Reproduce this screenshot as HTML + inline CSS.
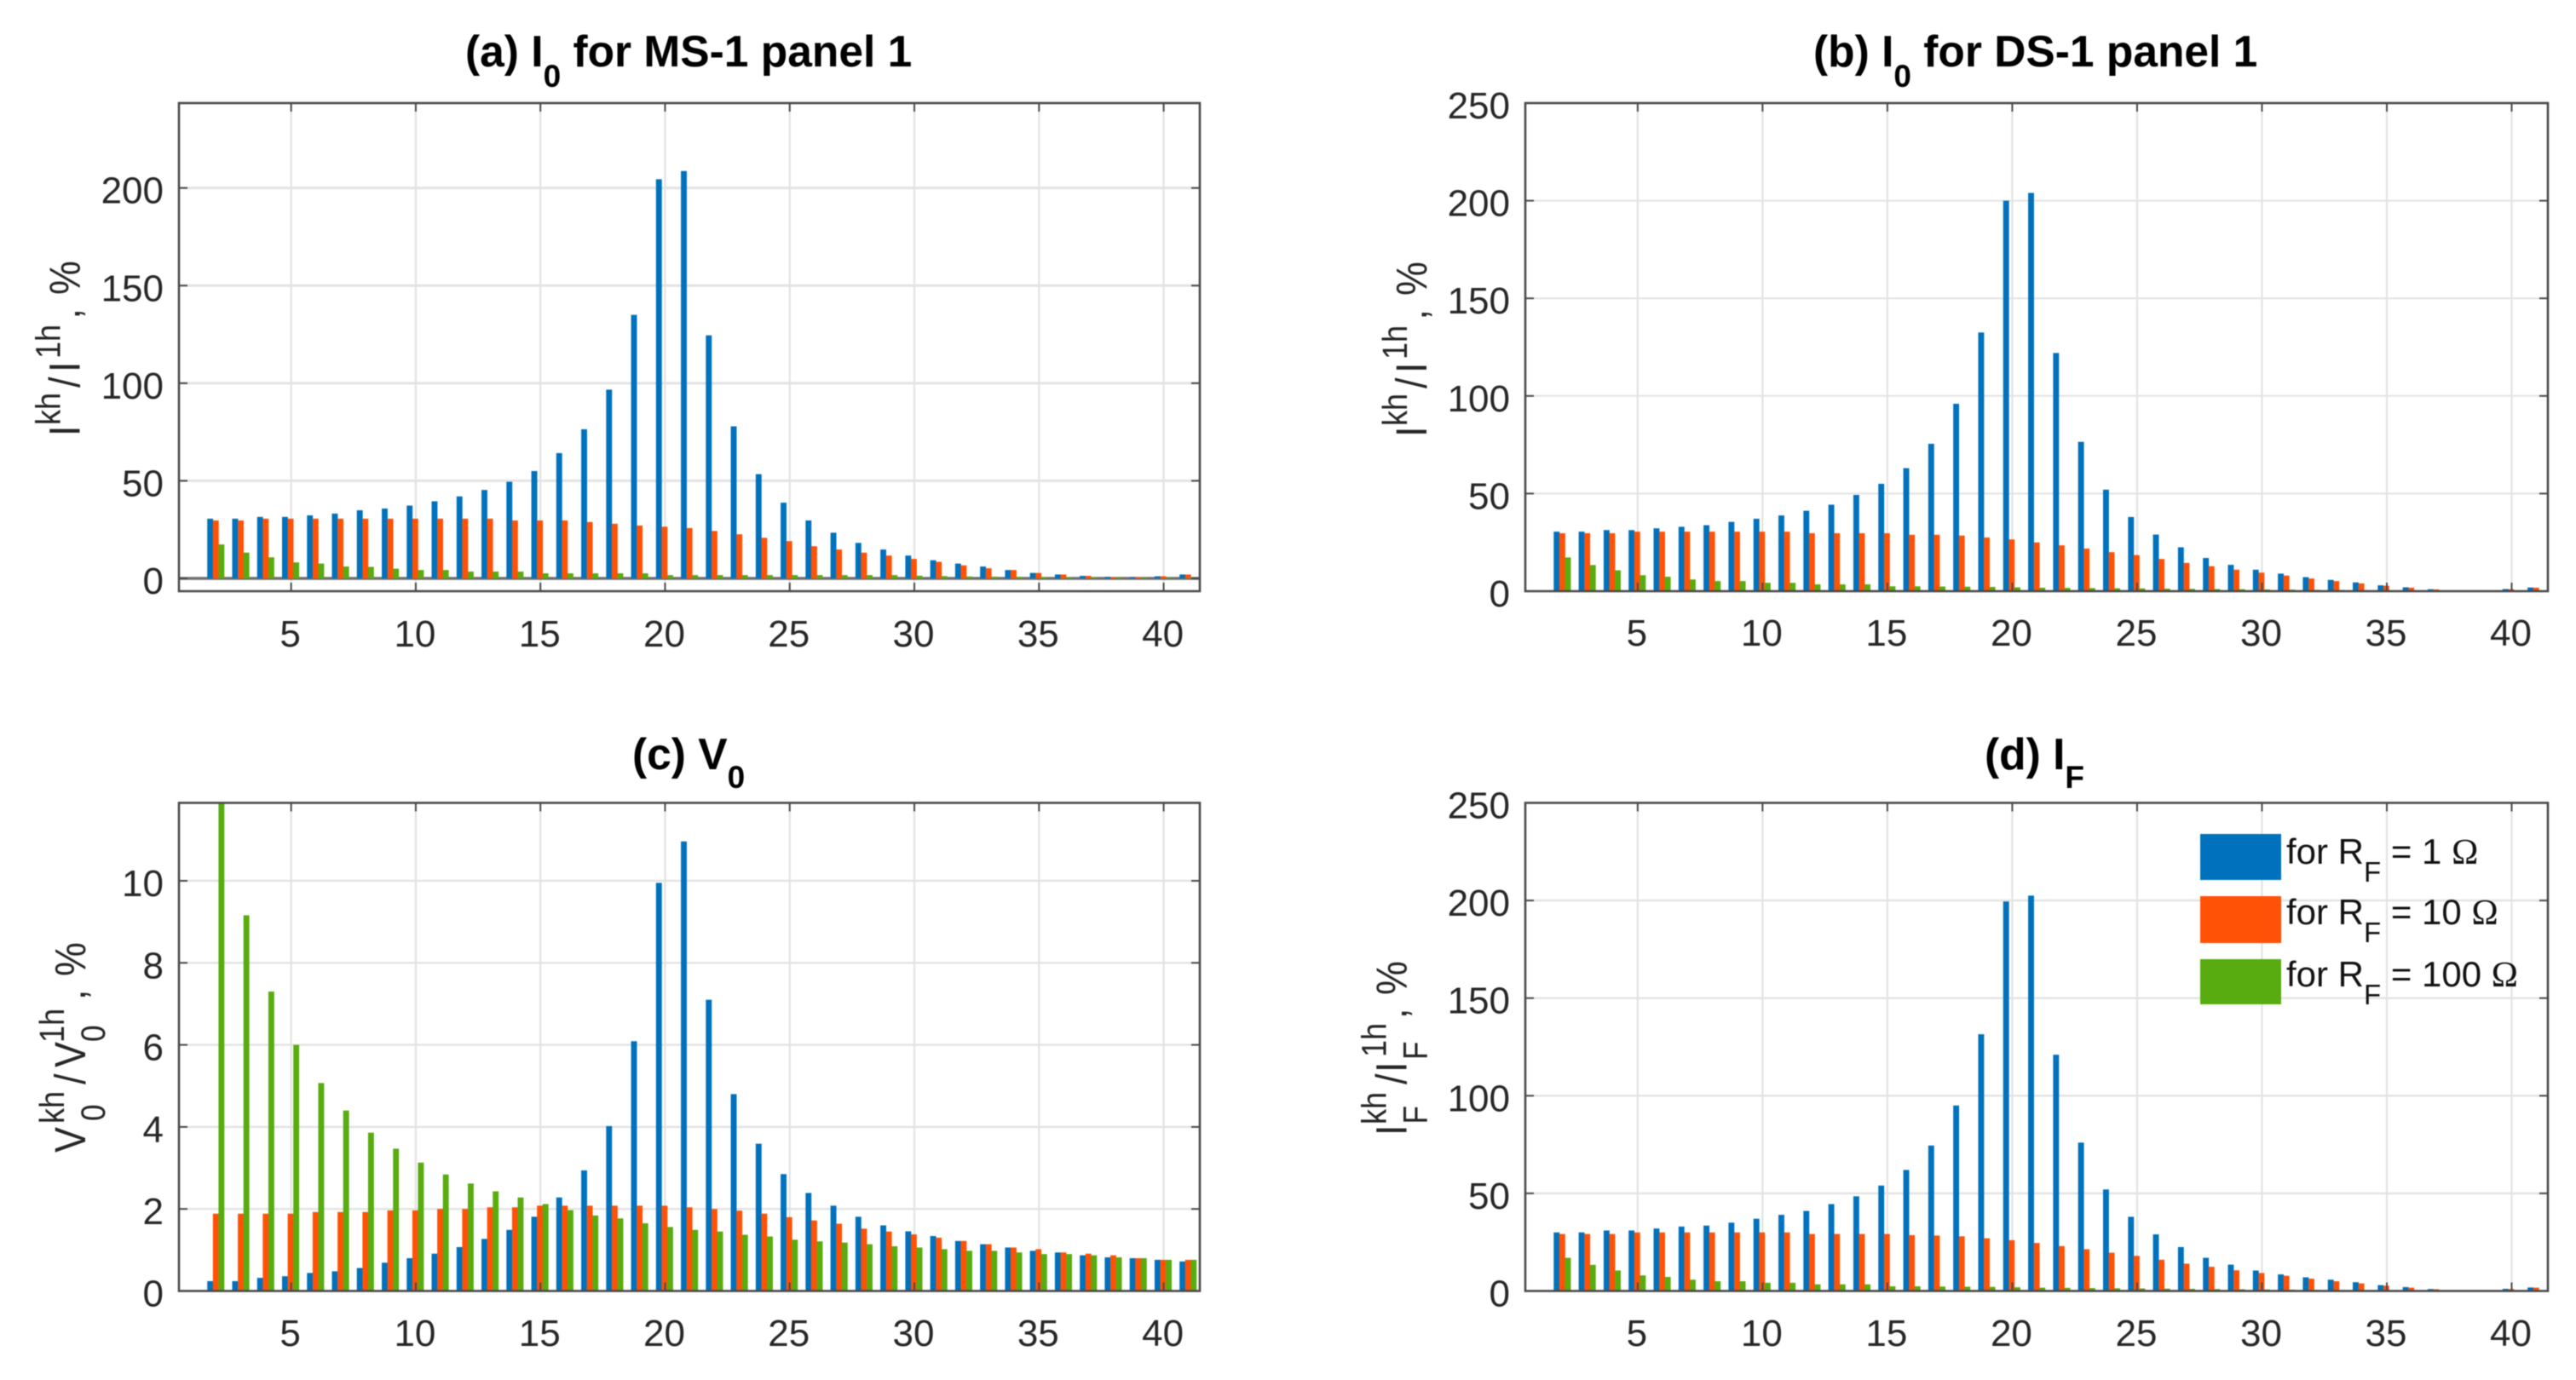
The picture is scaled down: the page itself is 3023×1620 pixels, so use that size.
<!DOCTYPE html>
<html lang="en">
<head>
<meta charset="utf-8">
<title>Harmonic spectra charts</title>
<style>
html,body{margin:0;padding:0;background:#fff;}
#figure{display:block;width:3023px;height:1620px;filter:blur(0.6px);font-family:"Liberation Sans",Arial,sans-serif;}
.title{font-size:51.5px;font-weight:700;fill:#000;}
.ylabel{font-size:51px;fill:#262626;}
.ylabel .sup{font-size:41px;}
.ylabel .sub{font-size:40px;}
.tick-label{font-size:44px;fill:#262626;}
.legend-text{font-size:42px;fill:#111;}
</style>
</head>
<body>
<svg id="figure" xmlns="http://www.w3.org/2000/svg" width="3023" height="1620" viewBox="0 0 3023 1620">
  <rect x="0" y="0" width="3023" height="1620" fill="#ffffff"/>
  <defs id="clip-defs"></defs>
  <g id="panel-a"></g>
  <g id="panel-b"></g>
  <g id="panel-c"></g>
  <g id="panel-d"></g>

  <text class="title" x="546" y="78">(a) I<tspan font-size="37" dy="24">0</tspan><tspan dy="-24"> for MS-1 panel 1</tspan></text>
  <text class="title" x="2128" y="78">(b) I<tspan font-size="37" dy="24">0</tspan><tspan dy="-24"> for DS-1 panel 1</tspan></text>
  <text class="title" x="742" y="903">(c) V<tspan font-size="37" dy="22">0</tspan></text>
  <text class="title" x="2329" y="903">(d) I<tspan font-size="37" dy="22">F</tspan></text>

  <text class="ylabel" transform="translate(93.3,512) rotate(-90) scale(0.88,1)"><tspan x="0" y="0">I</tspan><tspan class="sup" x="14.8" y="-23">kh</tspan><tspan x="64.8" y="0">/</tspan><tspan x="85.2" y="0">I</tspan><tspan class="sup" x="103.4" y="-23">1h</tspan><tspan x="156.3" y="0">,</tspan><tspan x="188.6" y="0">%</tspan></text>
  <text class="ylabel" transform="translate(1674,513) rotate(-90) scale(0.88,1)"><tspan x="0" y="0">I</tspan><tspan class="sup" x="14.8" y="-23">kh</tspan><tspan x="64.8" y="0">/</tspan><tspan x="85.2" y="0">I</tspan><tspan class="sup" x="103.4" y="-23">1h</tspan><tspan x="156.3" y="0">,</tspan><tspan x="188.6" y="0">%</tspan></text>
  <text class="ylabel" transform="translate(100,1353) rotate(-90) scale(0.88,1)"><tspan x="0" y="0">V</tspan><tspan class="sub" x="42" y="23">0</tspan><tspan class="sup" x="38.6" y="-25">kh</tspan><tspan x="90.9" y="0">/</tspan><tspan x="113.6" y="0">V</tspan><tspan class="sub" x="147.7" y="23">0</tspan><tspan class="sup" x="146.6" y="-25">1h</tspan><tspan x="203.4" y="0">,</tspan><tspan x="235.2" y="0">%</tspan></text>
  <text class="ylabel" transform="translate(1650.7,1333) rotate(-90) scale(0.88,1)"><tspan x="0" y="0">I</tspan><tspan class="sub" x="15.3" y="24">F</tspan><tspan class="sup" x="14.8" y="-24">kh</tspan><tspan x="68.2" y="0">/</tspan><tspan x="84.1" y="0">I</tspan><tspan class="sub" x="101.1" y="24">F</tspan><tspan class="sup" x="104.5" y="-24">1h</tspan><tspan x="155.7" y="0">,</tspan><tspan x="187.5" y="0">%</tspan></text>

  <g>
    <rect x="2582" y="979" width="95" height="54" fill="#0072BD"/>
    <text class="legend-text" x="2683" y="1014">for R<tspan font-size="33" dy="21">F</tspan><tspan dy="-21"> = 1 </tspan><tspan font-family="'Liberation Serif',serif">Ω</tspan></text>
    <rect x="2582" y="1052" width="95" height="55" fill="#FF5206"/>
    <text class="legend-text" x="2683" y="1085">for R<tspan font-size="33" dy="21">F</tspan><tspan dy="-21"> = 10 </tspan><tspan font-family="'Liberation Serif',serif">Ω</tspan></text>
    <rect x="2582" y="1126" width="95" height="53" fill="#58AC10"/>
    <text class="legend-text" x="2683" y="1158">for R<tspan font-size="33" dy="21">F</tspan><tspan dy="-21"> = 100 </tspan><tspan font-family="'Liberation Serif',serif">Ω</tspan></text>
  </g>
</svg>

<script>
const harmonicOrders = [2,3,4,5,6,7,8,9,10,11,12,13,14,15,16,17,18,19,20,21,22,23,24,25,26,27,28,29,30,31,32,33,34,35,36,37,38,39,40,41];
const xTickValues = [5,10,15,20,25,30,35,40];
const currentTickValues = [0,50,100,150,200];
const currentTickValuesFull = [0,50,100,150,200,250];
const voltageTickValues = [0,2,4,6,8,10];

const panelABlue = [30.6,30.6,31.5,31.5,32.3,33.2,34.9,35.8,37.3,39.5,42,45.3,49.5,55,64.2,76.4,96.7,135,204.5,208.7,124.5,77.9,53.4,38.8,29.7,23.4,18.2,14.8,11.7,9.3,7.6,6.1,4.3,2.8,2,1.3,0.8,0.7,1.1,2];
const panelAOrange = [29.7,29.7,30.6,30.6,30.6,30.6,30.6,30.6,30.6,30.6,30.6,30.6,29.7,29.7,29.7,28.9,28,27.1,26.5,25.8,24.3,22.6,20.8,19.1,16.5,14.8,13.2,11.7,10,8.5,6.7,5.2,4.3,2.8,2,1.3,0.7,0.7,1.1,2];
const panelAGreen = [17.4,13.2,10.8,8.2,7.6,6.1,5.9,5,4.3,4.3,3.5,3.5,3.5,2.6,2.6,2.6,2.6,2.6,1.7,1.7,1.7,1.7,1.7,1.7,1.7,1.7,1.7,1.7,1.4,1.2,1,0.9,0.8,0.7,0.6,0.5,0.4,0.4,0.4,0.4];

const panelBBlue = [30.5,30.5,31.3,31.3,32.2,33,33.8,35.5,37.1,38.8,41.2,44.3,49.3,55,63,75.5,96,132.5,200,204,122,76.5,52,38,29,22.5,17,13.5,11,9,7.2,5.8,4.5,3,2,1,0.3,0.3,1.1,1.9];
const panelBOrange = [29.7,29.7,29.7,30.5,30.5,30.5,30.5,30.5,30.5,30.5,29.7,29.7,29.7,29.7,28.9,28.9,28.5,27.5,26.5,25,23.5,21.8,20,18.5,16.5,14.5,12.8,11,9.5,8,6.5,5.2,4,2.8,1.8,0.9,0.3,0.3,1,1.8];
const panelBGreen = [17.3,13.4,10.7,8.2,7.4,6,5.2,5.2,4.3,4.3,3.5,3.5,3.5,2.5,2.5,2.4,2.3,2.2,2,1.8,1.7,1.6,1.5,1.4,1.3,1.2,1.1,1,0.9,0.8,0.7,0.6,0.5,0.4,0.3,0.2,0.1,0.1,0.2,0.3];

const panelCBlue = [0.24,0.24,0.32,0.36,0.44,0.48,0.56,0.69,0.8,0.91,1.07,1.27,1.49,1.81,2.28,2.94,4.02,6.09,9.95,10.96,7.1,4.8,3.59,2.85,2.39,2.08,1.81,1.6,1.455,1.34,1.22,1.14,1.06,0.98,0.94,0.87,0.82,0.8,0.76,0.72];
const panelCOrange = [1.885,1.885,1.885,1.885,1.925,1.925,1.925,1.965,1.965,2,2,2.04,2.04,2.08,2.08,2.08,2.08,2.08,2.08,2.04,2,1.96,1.885,1.8,1.72,1.64,1.52,1.45,1.38,1.3,1.22,1.14,1.06,1.02,0.94,0.91,0.87,0.8,0.76,0.76];
const panelCGreen = [13.6,9.16,7.3,6,5.07,4.4,3.86,3.47,3.13,2.84,2.62,2.43,2.28,2.12,1.97,1.84,1.77,1.65,1.56,1.49,1.45,1.37,1.33,1.25,1.21,1.18,1.14,1.09,1.06,1.02,0.98,0.98,0.94,0.9,0.9,0.87,0.82,0.8,0.76,0.76];

const panelDBlue = [30,30,31,31,32,33,33.5,35,37,39,41,44.5,48.5,54,62,74.5,95,131.5,199.5,202.5,121,76,52,38,29,22.5,17,13.5,10.5,8.5,7,5.8,4.5,3,2,1,0.3,0.3,1.1,1.8];
const panelDOrange = [29.2,29.2,29.2,30,30,30,30,30,30,30,29.2,29.2,29.2,29.2,28.6,28.4,28,27,26,24.6,23,21.4,19.6,18,16,14,12.4,10.6,9.2,7.8,6.3,5,3.9,2.7,1.7,0.9,0.3,0.3,1,1.7];
const panelDGreen = [17,13.4,10.5,8,7.2,5.8,5,5,4.2,4.2,3.4,3.4,3.4,2.4,2.4,2.3,2.2,2.1,1.9,1.7,1.6,1.5,1.4,1.3,1.2,1.1,1,0.9,0.8,0.7,0.6,0.5,0.4,0.3,0.2,0.2,0.1,0.1,0.2,0.3];

const SVG_NS = 'http://www.w3.org/2000/svg';
const BLUE = '#0072BD';
const ORANGE = '#FF5206';
const GREEN = '#58AC10';
const X_MIN = 0.5;
const X_MAX = 41.45;

function makeScaleX(left, right) {
  return function (k) { return left + (k - X_MIN) / (X_MAX - X_MIN) * (right - left); };
}
function makeScaleY(top, bottom, yMin, yMax) {
  return function (v) { return bottom - (v - yMin) / (yMax - yMin) * (bottom - top); };
}
function shape(tag, parent, props) {
  const el = document.createElementNS(SVG_NS, tag);
  Object.keys(props).forEach(function (key) { el.setAttribute(key, props[key]); });
  parent.appendChild(el);
  return el;
}

function drawPanel(cfg) {
  const root = document.getElementById(cfg.id);
  const sx = makeScaleX(cfg.left, cfg.right);
  const sy = makeScaleY(cfg.top, cfg.bottom, cfg.yMin, cfg.yMax);
  const id = cfg.id;

  const clip = shape('clipPath', document.getElementById('clip-defs'), { id: 'clip-' + id });
  shape('rect', clip, { x: cfg.left, y: cfg.top, width: cfg.right - cfg.left, height: cfg.bottom - cfg.top });

  const plotBg = shape('rect', root, { x: cfg.left, y: cfg.top, width: cfg.right - cfg.left, height: cfg.bottom - cfg.top, fill: '#ffffff' });
  
  

  cfg.yTicks.forEach(function (v) {
    if (v === cfg.yMin || v === cfg.yMax) return;
    const grid = shape('line', root, { x1: cfg.left, x2: cfg.right, y1: sy(v), y2: sy(v), stroke: '#e3e3e3', 'stroke-width': cfg.hGridWidth });
    
    
  });
  xTickValues.forEach(function (k) {
    const grid = shape('line', root, { x1: sx(k), x2: sx(k), y1: cfg.top, y2: cfg.bottom, stroke: '#e3e3e3', 'stroke-width': 2.2 });
    
    
  });

  if (cfg.yMin < 0) {
    const base = shape('line', root, { x1: cfg.left, x2: cfg.right, y1: sy(0), y2: sy(0), stroke: '#6f6f6f', 'stroke-width': 3.5 });
    
    
  }

  const barLayer = shape('g', root, { 'clip-path': 'url(#clip-' + id + ')' });
  
  

  const barWidth = 6.9;
  const offset = 6.6;
  const seriesList = [
    { key: '1-ohm', values: cfg.blue, color: BLUE, shift: -offset },
    { key: '10-ohm', values: cfg.orange, color: ORANGE, shift: 0 },
    { key: '100-ohm', values: cfg.green, color: GREEN, shift: offset }
  ];
  seriesList.forEach(function (series) {
    harmonicOrders.forEach(function (k, i) {
      const yTop = sy(series.values[i]);
      const yZero = sy(0);
      const bar = shape('rect', barLayer, {
        x: sx(k) + series.shift - barWidth / 2 - 0.6,
        y: yTop,
        width: barWidth,
        height: Math.max(0, yZero - yTop),
        fill: series.color
      });
      
      
    });
  });

  const axisColor = '#4a4a4a';
  xTickValues.forEach(function (k) {
    const tickBottom = shape('line', root, { x1: sx(k), x2: sx(k), y1: cfg.bottom, y2: cfg.bottom - 10, stroke: axisColor, 'stroke-width': 2 });
    
    
    const tickTop = shape('line', root, { x1: sx(k), x2: sx(k), y1: cfg.top, y2: cfg.top + 10, stroke: axisColor, 'stroke-width': 2 });
    
    
    const label = shape('text', root, { x: sx(k) - 1, y: cfg.xLabelY, class: 'tick-label', 'text-anchor': 'middle' });
    label.textContent = String(k);
    
    
  });
  cfg.yTicks.forEach(function (v) {
    const tickLeft = shape('line', root, { x1: cfg.left, x2: cfg.left + 10, y1: sy(v), y2: sy(v), stroke: axisColor, 'stroke-width': 2 });
    
    
    const tickRight = shape('line', root, { x1: cfg.right, x2: cfg.right - 10, y1: sy(v), y2: sy(v), stroke: axisColor, 'stroke-width': 2 });
    
    
    const label = shape('text', root, { x: cfg.left - 18, y: sy(v) + 18, class: 'tick-label', 'text-anchor': 'end' });
    label.textContent = String(v);
    
    
  });

  const box = shape('rect', root, { x: cfg.left, y: cfg.top, width: cfg.right - cfg.left, height: cfg.bottom - cfg.top, fill: 'none', stroke: axisColor, 'stroke-width': 2.6 });
  
  
}

drawPanel({ id: 'panel-a', left: 210, right: 1408, top: 121, bottom: 694, yMin: -6.55, yMax: 243.5, yTicks: currentTickValues, hGridWidth: 3, xLabelY: 759, blue: panelABlue, orange: panelAOrange, green: panelAGreen });
drawPanel({ id: 'panel-b', left: 1790, right: 2990, top: 121, bottom: 694, yMin: 0, yMax: 250, yTicks: currentTickValuesFull, hGridWidth: 2, xLabelY: 758, blue: panelBBlue, orange: panelBOrange, green: panelBGreen });
drawPanel({ id: 'panel-c', left: 210, right: 1408, top: 942.5, bottom: 1515.5, yMin: 0, yMax: 11.9, yTicks: voltageTickValues, hGridWidth: 2.4, xLabelY: 1580, blue: panelCBlue, orange: panelCOrange, green: panelCGreen });
drawPanel({ id: 'panel-d', left: 1790, right: 2990, top: 942.5, bottom: 1515.5, yMin: 0, yMax: 250, yTicks: currentTickValuesFull, hGridWidth: 2.4, xLabelY: 1580, blue: panelDBlue, orange: panelDOrange, green: panelDGreen });
</script>
</body>
</html>
